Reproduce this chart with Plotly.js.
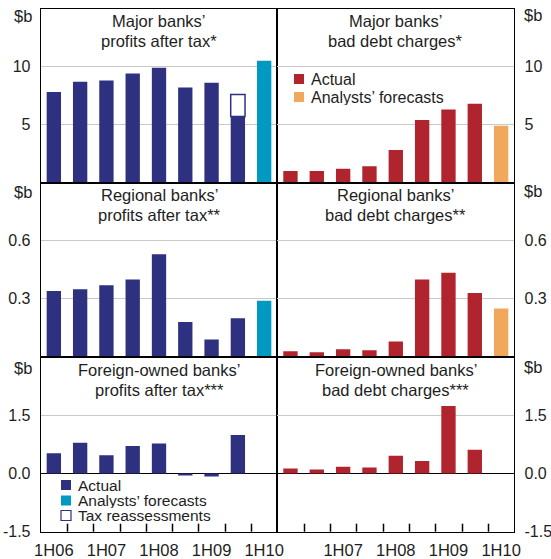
<!DOCTYPE html>
<html>
<head>
<meta charset="utf-8">
<script src="https://cdn.plot.ly/plotly-3.0.1.min.js"></script>
<style>html,body{margin:0;padding:0;background:#fff}#chart{width:551px;height:559px}</style>
</head>
<body>
<div id="chart"></div>
<script>
// ---------- data ----------
const categories = ['1H06','2H06','1H07','2H07','1H08','2H08','1H09','2H09','1H10'];

const majorProfitActual     = [7.8, 8.7, 8.8, 9.4, 9.9, 8.2, 8.6, 5.7, null];
const majorProfitTax        = [null, null, null, null, null, null, null, 1.9, null];
const majorProfitForecast   = [null, null, null, null, null, null, null, null, 10.5];
const majorBadDebtActual    = [1.0, 1.0, 1.2, 1.4, 2.8, 5.4, 6.3, 6.8, null];
const majorBadDebtForecast  = [null, null, null, null, null, null, null, null, 4.9];

const regionalProfitActual    = [0.34, 0.35, 0.37, 0.40, 0.53, 0.18, 0.09, 0.20, null];
const regionalProfitForecast  = [null, null, null, null, null, null, null, null, 0.29];
const regionalBadDebtActual   = [0.03, 0.025, 0.04, 0.035, 0.08, 0.40, 0.435, 0.33, null];
const regionalBadDebtForecast = [null, null, null, null, null, null, null, null, 0.25];

const foreignProfitActual  = [0.52, 0.79, 0.47, 0.71, 0.77, -0.05, -0.08, 0.99, null];
const foreignBadDebtActual = [0.13, 0.10, 0.17, 0.155, 0.455, 0.32, 1.74, 0.61, null];

const panelTitles = [
  ['Major banks’', 'profits after tax*'],
  ['Major banks’', 'bad debt charges*'],
  ['Regional banks’', 'profits after tax**'],
  ['Regional banks’', 'bad debt charges**'],
  ['Foreign-owned banks’', 'profits after tax***'],
  ['Foreign-owned banks’', 'bad debt charges***']
];
const yRanges = [[0,15],[0,15],[0,0.9],[0,0.9],[-1.5,3],[-1.5,3]];
const yTickVals = [[5,10],[5,10],[0.3,0.6],[0.3,0.6],[-1.5,0,1.5],[-1.5,0,1.5]];
const yTickText = [['5','10'],['5','10'],['0.3','0.6'],['0.3','0.6'],['-1.5','0.0','1.5'],['-1.5','0.0','1.5']];
const unitLabel = '$b';

// ---------- styles ----------
const NAVY = '#2e3080', CYAN = '#0099c2', RED = '#b0242d', ORANGE = '#f0a95c';
const FONT = 'Liberation Sans, Arial, sans-serif';
const TXT = '#1e1e1e';
const W = 551, H = 559;
const px = v => v / W, py = v => 1 - v / H;

const colX = [[40.7, 277.3], [277.3, 514.3]];
const rowY = [[8.6, 182.6], [182.6, 357], [357, 531.7]];

function bar(ax, y, color, name, line) {
  return {
    type: 'bar', x: categories, y: y, name: name,
    xaxis: 'x' + ax, yaxis: 'y' + ax,
    marker: {color: color, line: line || {width: 0}},
    showlegend: false, hoverinfo: 'x+y'
  };
}

const data = [
  bar('', majorProfitActual, NAVY, 'Actual'),
  bar('', majorProfitTax, '#ffffff', 'Tax reassessments', {color: NAVY, width: 1.5}),
  bar('', majorProfitForecast, CYAN, 'Analysts’ forecasts'),
  bar('2', majorBadDebtActual, RED, 'Actual'),
  bar('2', majorBadDebtForecast, ORANGE, 'Analysts’ forecasts'),
  bar('3', regionalProfitActual, NAVY, 'Actual'),
  bar('3', regionalProfitForecast, CYAN, 'Analysts’ forecasts'),
  bar('4', regionalBadDebtActual, RED, 'Actual'),
  bar('4', regionalBadDebtForecast, ORANGE, 'Analysts’ forecasts'),
  bar('5', foreignProfitActual, NAVY, 'Actual'),
  bar('6', foreignBadDebtActual, RED, 'Actual')
];

const layout = {
  width: W, height: H,
  margin: {l: 0, r: 0, t: 0, b: 0},
  paper_bgcolor: '#fff', plot_bgcolor: '#fff',
  barmode: 'relative', bargap: 0.455,
  font: {family: FONT, size: 16, color: TXT},
  showlegend: false,
  annotations: [], shapes: []
};

for (let i = 0; i < 6; i++) {
  const col = i % 2, row = Math.floor(i / 2);
  const id = i === 0 ? '' : String(i + 1);
  const isBottom = row === 2;
  layout['xaxis' + id] = {
    type: 'category', categoryarray: categories, categoryorder: 'array',
    domain: [px(colX[col][0]), px(colX[col][1])],
    anchor: 'y' + id, range: [-0.5, 8.5], fixedrange: true,
    showline: true, mirror: true, linecolor: '#000', linewidth: 1,
    showgrid: false, zeroline: false,
    tickmode: 'linear', tick0: 0, dtick: 1, ticklabelstep: 2,
    tickangle: 0,
    labelalias: col === 1 ? {'1H06': ' '} : {},
    ticks: '',
    showticklabels: isBottom, ticklabelstandoff: 3,
    tickfont: {size: 16.5, color: TXT}
  };
  layout['yaxis' + id] = {
    domain: [py(rowY[row][1]), py(rowY[row][0])],
    anchor: 'x' + id, range: yRanges[i], fixedrange: true,
    side: col === 0 ? 'left' : 'right',
    showline: true, mirror: true, linecolor: '#000', linewidth: 1,
    showgrid: true, gridcolor: '#c9c9c9', gridwidth: 1,
    zeroline: isBottom, zerolinecolor: '#000', zerolinewidth: 1,
    tickmode: 'array', tickvals: yTickVals[i], ticktext: yTickText[i],
    ticks: '', ticklabelstandoff: 6,
    tickfont: {size: 16, color: TXT}
  };
  // panel titles
  const cx = (colX[col][0] + colX[col][1]) / 2;
  const top = rowY[row][0];
  layout.annotations.push({
    xref: 'paper', yref: 'paper', x: px(cx), y: py(top + 18.5 - 6),
    xanchor: 'center', yanchor: 'middle', showarrow: false,
    text: panelTitles[i][0], font: {size: 16.5, color: TXT}
  });
  layout.annotations.push({
    xref: 'paper', yref: 'paper', x: px(cx), y: py(top + 38.5 - 6),
    xanchor: 'center', yanchor: 'middle', showarrow: false,
    text: panelTitles[i][1], font: {size: 16.5, color: TXT}
  });
}

// small inside tick marks at the boundaries between half-years (bottom panels),
// placed from the axis domains and the number of categories
[0, 1].forEach(col => {
  const n = categories.length, x0 = colX[col][0], w = colX[col][1] - colX[col][0];
  for (let k = 1; k < n; k++) {
    const xb = Math.round(x0 + w * k / n) + 0.5;
    layout.shapes.push({
      type: 'line', xref: 'paper', yref: 'paper', layer: 'above',
      x0: px(xb), x1: px(xb), y0: py(rowY[2][1]), y1: py(rowY[2][1] - 8),
      line: {color: '#000000', width: 1.5}
    });
  }
});

// unit labels "$b"
const unitOffsets = [13, 12, 15.5, 14, 17, 15.5];
for (let i = 0; i < 6; i++) {
  const col = i % 2, row = Math.floor(i / 2);
  const top = rowY[row][0];
  layout.annotations.push({
    xref: 'paper', yref: 'paper',
    x: col === 0 ? px(colX[0][0] - 7) : px(colX[1][1] + 7.5),
    y: py(top + unitOffsets[i] - 6),
    xanchor: col === 0 ? 'right' : 'left', yanchor: 'middle', showarrow: false,
    text: unitLabel, font: {size: 16.5, color: TXT}
  });
}

// legends (drawn as key squares + text)
const legendTR = [
  {label: 'Actual', fill: RED, line: RED, y: 79},
  {label: 'Analysts’ forecasts', fill: ORANGE, line: ORANGE, y: 97}
];
const legendBL = [
  {label: 'Actual', fill: NAVY, line: NAVY, y: 485},
  {label: 'Analysts’ forecasts', fill: CYAN, line: CYAN, y: 500.5},
  {label: 'Tax reassessments', fill: '#ffffff', line: NAVY, y: 515.5}
];
function addLegend(items, x0, fs) {
  items.forEach(it => {
    layout.shapes.push({
      type: 'rect', xref: 'paper', yref: 'paper',
      x0: px(x0), x1: px(x0 + 10), y0: py(it.y - 5), y1: py(it.y + 5),
      fillcolor: it.fill, line: {color: it.line, width: it.fill === '#ffffff' ? 1.2 : 0}
    });
    layout.annotations.push({
      xref: 'paper', yref: 'paper', x: px(x0 + 15), y: py(it.y),
      xanchor: 'left', yanchor: 'middle', showarrow: false, height: 15,
      text: it.label, font: {size: fs, color: TXT}
    });
  });
}
addLegend(legendTR, 294, 16);
addLegend(legendBL, 61, 15.5);

Plotly.newPlot('chart', data, layout, {staticPlot: true, displayModeBar: false});
</script>
</body>
</html>
